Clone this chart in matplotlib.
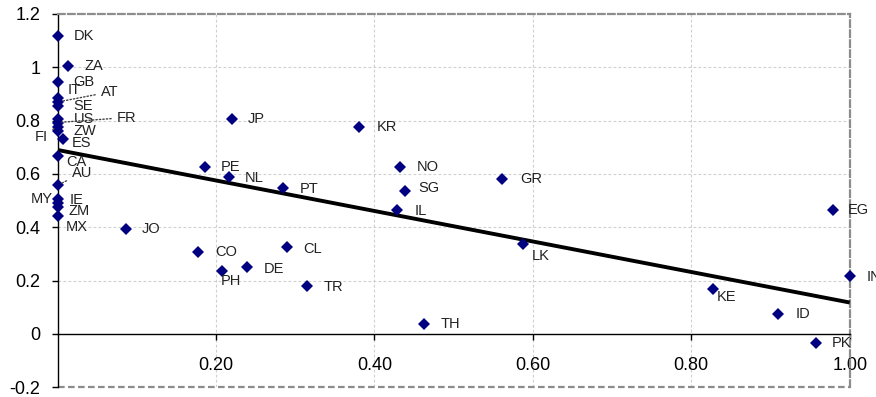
import matplotlib
matplotlib.use("Agg")
import matplotlib.pyplot as plt
import numpy as np

plt.rcParams['font.family'] = ['Liberation Sans', 'DejaVu Sans']

# ---- data ----
countries = ["DK", "ZA", "GB", "IT", "AT", "SE", "US", "FR", "FI", "ZW", "ES",
             "CA", "AU", "MY", "IE", "ZM", "MX", "JO", "JP", "KR", "PE", "NL",
             "PT", "NO", "SG", "IL", "GR", "LK", "CO", "CL", "PH", "DE", "TR",
             "TH", "EG", "IN", "KE", "ID", "PK"]
x_vals = [0.000, 0.013, 0.000, 0.000, 0.000, 0.000, 0.000, 0.000, 0.000, 0.000, 0.007,
          0.000, 0.000, 0.000, 0.000, 0.000, 0.000, 0.086, 0.220, 0.381, 0.186, 0.216,
          0.285, 0.432, 0.439, 0.429, 0.561, 0.588, 0.177, 0.289, 0.207, 0.239, 0.315,
          0.463, 0.979, 1.000, 0.827, 0.910, 0.958]
y_vals = [1.118, 1.004, 0.945, 0.885, 0.870, 0.855, 0.808, 0.793, 0.778, 0.762, 0.730,
          0.668, 0.558, 0.505, 0.492, 0.478, 0.443, 0.393, 0.807, 0.778, 0.628, 0.588,
          0.547, 0.625, 0.538, 0.464, 0.582, 0.338, 0.309, 0.328, 0.238, 0.253, 0.180,
          0.037, 0.465, 0.219, 0.168, 0.074, -0.033]
trend_x = [0.0, 1.0]
trend_y = [0.690, 0.118]
x_ticks = [0.20, 0.40, 0.60, 0.80, 1.00]
x_tick_labels = ["0.20", "0.40", "0.60", "0.80", "1.00"]
y_ticks = [-0.2, 0, 0.2, 0.4, 0.6, 0.8, 1, 1.2]
y_tick_labels = ["-0.2", "0", "0.2", "0.4", "0.6", "0.8", "1", "1.2"]

# label placement (pixel offsets from the point), alignment, leader line
label_style = {
    "DK": (16, 0), "ZA": (17, 0), "GB": (16, 0), "IT": (10, -8),
    "AT": (43, -10, "leader"), "SE": (16, 0), "US": (16, 0),
    "FR": (59, -5, "leader"), "FI": (-10, 10, "leader", "right"),
    "ZW": (16, 0), "ES": (9, 4), "CA": (9, 6), "AU": (14, -12, "leader"),
    "MY": (-5, 0, None, "right"), "IE": (12, -3), "ZM": (11, 4), "MX": (8, 11),
    "JO": (16, 0), "JP": (16, 0), "KR": (17, 0), "PE": (16, 0), "NL": (16, 1),
    "PT": (16, 1), "NO": (17, 0), "SG": (13, -3), "IL": (17, 1), "GR": (18, 0),
    "LK": (8, 12), "CO": (17, 0), "CL": (17, 2), "PH": (-1, 10), "DE": (17, 2),
    "TR": (16, 1), "TH": (16, 0), "EG": (15, 0), "IN": (17, 1), "KE": (4, 8),
    "ID": (17, 0), "PK": (15, 0),
}

W, H = 876, 397
fig = plt.figure(figsize=(W / 100, H / 100), dpi=100)
ax = fig.add_axes([57.7 / W, 1 - 387.3 / H, (849.7 - 57.7) / W, (387.3 - 14) / H])

ax.set_xlim(0, 1.0)
ax.set_ylim(-0.2, 1.2)

# gridlines
grid_kw = dict(color="#cfcfcf", lw=0.8, ls=(0, (2.5, 2)), zorder=0)
for gx in x_ticks[:-1]:
    ax.axvline(gx, **grid_kw)
for gy in [0.2, 0.4, 0.6, 0.8, 1.0]:
    ax.axhline(gy, **grid_kw)

# borders
border_kw = dict(color="#8c8c8c", lw=1.6, ls=(0, (3, 1.5)), zorder=1, clip_on=False)
ax.axhline(-0.2, **border_kw)
for s in ["top", "right"]:
    ax.spines[s].set_color("#8c8c8c")
    ax.spines[s].set_linewidth(1.6)
    ax.spines[s].set_linestyle((0, (3, 1.5)))
ax.spines["bottom"].set_position(("data", 0))
ax.spines["bottom"].set_color("black")
ax.spines["bottom"].set_linewidth(1.0)
ax.spines["left"].set_color("black")
ax.spines["left"].set_linewidth(1.0)

ax.set_xticks(x_ticks)
ax.set_xticklabels(x_tick_labels)
ax.set_yticks(y_ticks)
ax.set_yticklabels(y_tick_labels)
ax.tick_params(axis="x", direction="out", length=4.3, width=1, pad=12, labelsize=13)
ax.tick_params(axis="y", direction="out", length=4.3, width=1, pad=8, labelsize=13)

# trend line
ax.plot(trend_x, trend_y, color="black", lw=2.8, zorder=3, solid_capstyle="butt")

# points
ax.plot(x_vals, y_vals, ls="none", marker="D", markersize=6.0, color="#000080",
        markeredgewidth=0, zorder=4, clip_on=False)

# labels
for c, xv, yv in zip(countries, x_vals, y_vals):
    st = label_style[c]
    dx, dy = st[0], st[1]
    leader = len(st) > 2 and st[2] == "leader"
    ha = st[3] if len(st) > 3 else "left"
    kw = {}
    if leader:
        kw["arrowprops"] = dict(arrowstyle="-", color="#444444", lw=1.0,
                                linestyle=(0, (1, 1.5)), shrinkA=2, shrinkB=3)
    ax.annotate(c, (xv, yv), xytext=(dx, -dy), textcoords="offset pixels",
                ha=ha, va="center", fontsize=10.5, color="#222222",
                annotation_clip=False, zorder=5, **kw)

fig.savefig("out.png", dpi=100)
